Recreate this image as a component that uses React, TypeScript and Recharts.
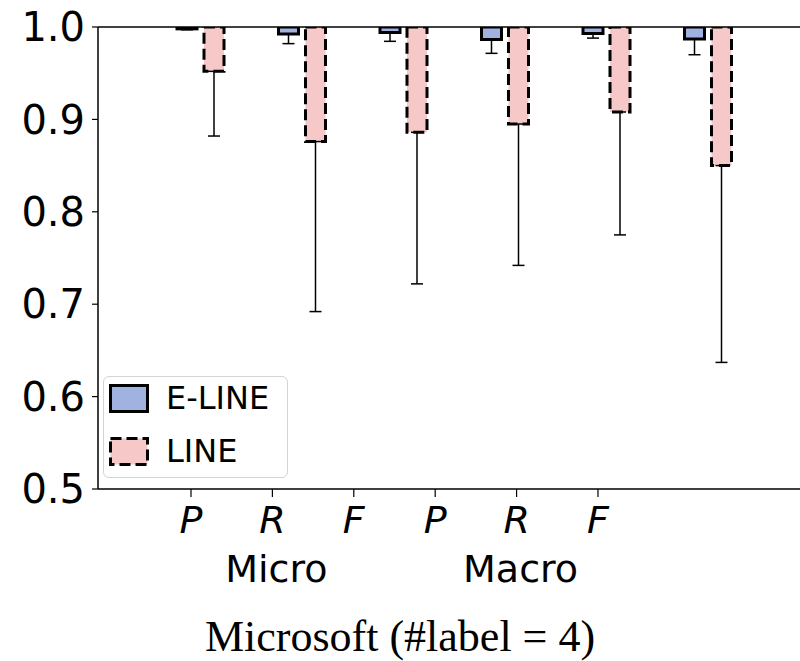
import {
  BarChart,
  Bar,
  XAxis,
  YAxis,
  ErrorBar,
  Legend,
  ReferenceLine,
  Label
} from "recharts";

// P / R / F scores, micro-averaged then macro-averaged
const metrics = ["P", "R", "F", "P", "R", "F"];
const metricPos = [0, 1, 2, 3, 4, 5];
// group names sit under the middle metric of each triple
const groups = ["Micro", "Macro"];
const groupPos = [1, 4];

const eLineMean = [0.998, 0.9925, 0.994, 0.9865, 0.993, 0.987];
const eLineStd = [0.001, 0.0105, 0.0095, 0.015, 0.005, 0.017];
const lineMean = [0.952, 0.876, 0.886, 0.895, 0.908, 0.85];
const lineStd = [0.07, 0.184, 0.164, 0.153, 0.133, 0.213];

const yTicks = [0.5, 0.6, 0.7, 0.8, 0.9, 1.0];

const W = 800;
const H = 661;
const TOP = 1;
const SANS = "DejaVu Sans";

// bars hang from 1.0 down to the score; the invisible base carries the error bar
const data = metrics.map((m, i) => ({
  metric: m,
  pos: metricPos[i],
  eBase: eLineMean[i],
  eBar: TOP - eLineMean[i],
  eErr: [eLineStd[i], 0],
  lBase: lineMean[i],
  lBar: TOP - lineMean[i],
  lErr: [lineStd[i], 0]
}));

const series: Record<string, { name: string; fill: string; dash?: string }> = {
  eBar: { name: "E-LINE", fill: "#a0b3e0" },
  lBar: { name: "LINE", fill: "#f6c8c8", dash: "11 5" }
};

const tickDomain: [number, number] = [-1.1425, 7.482];

function MetricTick({ x, y, payload }: any) {
  const g = groupPos.indexOf(payload.value);
  return (
    <g>
      <text
        x={x}
        y={y}
        dy={36}
        textAnchor="middle"
        fontFamily={SANS}
        fontStyle="italic"
        fontSize={38}
        fill="#000"
      >
        {metrics[payload.value]}
      </text>
      {g >= 0 && (
        <text x={x + 4} y={y} dy={85} textAnchor="middle" fontFamily={SANS} fontSize={38} fill="#000">
          {groups[g]}
        </text>
      )}
    </g>
  );
}

function Caption({ viewBox }: any) {
  const bottom = viewBox && viewBox.height ? viewBox.y + viewBox.height : H;
  return (
    <text
      x={W / 2}
      y={bottom - 10}
      textAnchor="middle"
      fontFamily="Liberation Serif"
      fontSize={44}
      fill="#000"
    >
      Microsoft (#label = 4)
    </text>
  );
}

function LegendBox({ payload }: any) {
  const items = (payload || []).filter((e: any) => series[e.dataKey]);
  return (
    <div
      style={{
        position: "relative",
        width: 185,
        height: 102,
        boxSizing: "border-box",
        border: "1.5px solid #d4d4d4",
        borderRadius: 6,
        background: "rgba(255,255,255,0.8)",
        fontFamily: SANS
      }}
    >
      {items.map((entry: any, i: number) => {
        const s = series[entry.dataKey];
        return (
          <div key={entry.dataKey} style={{ position: "absolute", left: 5, top: 7 + i * 53 }}>
            <svg width={40} height={30} style={{ position: "absolute", left: 0, top: 0 }}>
              <rect
                x={1.5}
                y={1.5}
                width={37}
                height={26}
                fill={s.fill}
                stroke="#000"
                strokeWidth={3}
                strokeDasharray={s.dash}
              />
            </svg>
            <span
              style={{
                position: "absolute",
                left: 57,
                top: -5,
                fontSize: 32,
                lineHeight: "38px",
                whiteSpace: "nowrap",
                color: "#000"
              }}
            >
              {s.name}
            </span>
          </div>
        );
      })}
    </div>
  );
}

export default function App() {
  return (
    <div style={{ position: "absolute", left: 0, top: 0, background: "#fff" }}>
      <BarChart
        width={W}
        height={H}
        data={data}
        margin={{ top: 27, right: 0, bottom: 0, left: 0 }}
        barSize={20}
        barGap={7}
      >
        <XAxis xAxisId="bars" dataKey="metric" hide height={0} padding={{ left: 52, right: 41 }} />
        <XAxis
          xAxisId="ticks"
          type="number"
          dataKey="pos"
          domain={tickDomain}
          allowDataOverflow
          ticks={metricPos}
          interval={0}
          height={172}
          tickSize={8}
          tickMargin={0}
          axisLine={{ stroke: "#000", strokeWidth: 1.5 }}
          tickLine={{ stroke: "#000", strokeWidth: 1.2 }}
          tick={<MetricTick />}
        >
          <Label content={<Caption />} />
        </XAxis>
        <YAxis
          domain={[0.5, 1]}
          allowDataOverflow
          ticks={yTicks}
          interval={0}
          width={98}
          tickSize={6}
          tickMargin={7}
          tickFormatter={(v: number) => v.toFixed(1)}
          tick={{ fill: "#000", fontSize: 40, fontFamily: SANS }}
          axisLine={{ stroke: "#000", strokeWidth: 1.5 }}
          tickLine={{ stroke: "#000", strokeWidth: 1.2 }}
        />
        <Legend
          layout="horizontal"
          verticalAlign="middle"
          align="center"
          wrapperStyle={{ left: 103, top: 376, width: 185, height: 102 }}
          content={<LegendBox />}
        />

        <Bar xAxisId="bars" dataKey="eBase" stackId="e" fill="none" legendType="none" isAnimationActive={false}>
          <ErrorBar dataKey="eErr" width={6} stroke="#000" strokeWidth={1.5} direction="y" />
        </Bar>
        <Bar
          xAxisId="bars"
          dataKey="eBar"
          name="E-LINE"
          stackId="e"
          fill={series.eBar.fill}
          stroke="#000"
          strokeWidth={3}
          isAnimationActive={false}
        />
        <Bar xAxisId="bars" dataKey="lBase" stackId="l" fill="none" legendType="none" isAnimationActive={false}>
          <ErrorBar dataKey="lErr" width={6} stroke="#000" strokeWidth={1.5} direction="y" />
        </Bar>
        <Bar
          xAxisId="bars"
          dataKey="lBar"
          name="LINE"
          stackId="l"
          fill={series.lBar.fill}
          stroke="#000"
          strokeWidth={3}
          strokeDasharray={series.lBar.dash}
          isAnimationActive={false}
        />

        <ReferenceLine xAxisId="ticks" y={TOP} stroke="#000" strokeWidth={1.5} />
      </BarChart>
    </div>
  );
}
